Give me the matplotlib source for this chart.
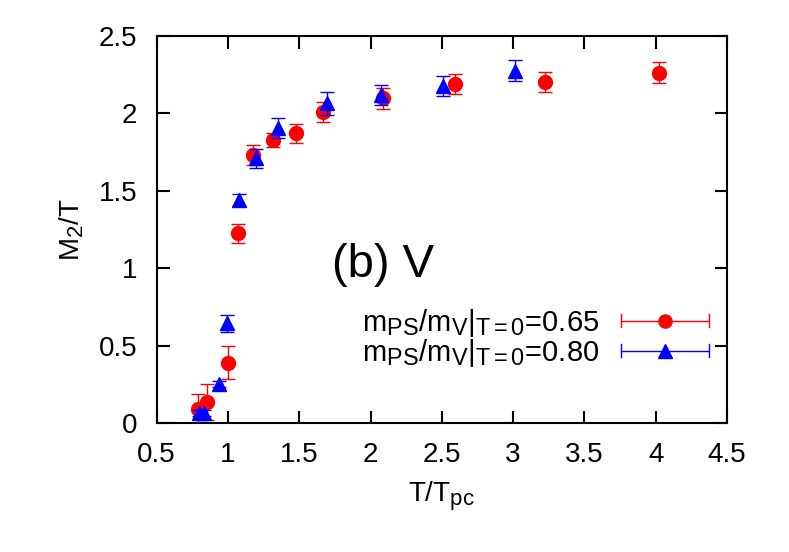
import matplotlib
matplotlib.use("Agg")
import matplotlib.pyplot as plt
from matplotlib.legend_handler import HandlerBase
from matplotlib.lines import Line2D
try:
    import matplotlib._mathtext as _mt
    _mt.SHRINK_FACTOR = 0.8
except Exception:
    pass

plt.rcParams['font.family'] = ['Liberation Sans', 'DejaVu Sans']
plt.rcParams['mathtext.fontset'] = 'custom'
plt.rcParams['mathtext.rm'] = 'Liberation Sans'
plt.rcParams['mathtext.it'] = 'Liberation Sans'
plt.rcParams['mathtext.default'] = 'regular'

# Data: m_PS/m_V = 0.65 (red circles)
x065 = [0.79, 0.85, 1.0, 1.073, 1.178, 1.318, 1.475, 1.669, 2.09, 2.593, 3.224, 4.023]
y065 = [0.09, 0.135, 0.39, 1.225, 1.731, 1.828, 1.871, 2.007, 2.097, 2.188, 2.201, 2.263]
e065 = [0.10, 0.115, 0.108, 0.06, 0.067, 0.047, 0.06, 0.065, 0.07, 0.065, 0.065, 0.067]

# Data: m_PS/m_V = 0.80 (blue triangles)
x080 = [0.797, 0.832, 0.935, 0.992, 1.078, 1.197, 1.349, 1.693, 2.074, 2.511, 3.013]
y080 = [0.062, 0.062, 0.252, 0.644, 1.44, 1.71, 1.904, 2.065, 2.119, 2.177, 2.276]
e080 = [0.02, 0.02, 0.02, 0.054, 0.04, 0.06, 0.065, 0.075, 0.062, 0.065, 0.068]

xticks = [0.5, 1, 1.5, 2, 2.5, 3, 3.5, 4, 4.5]
xticklabels = ['0.5', '1', '1.5', '2', '2.5', '3', '3.5', '4', '4.5']
yticks = [0, 0.5, 1, 1.5, 2, 2.5]
yticklabels = ['0', '0.5', '1', '1.5', '2', '2.5']

labels = [r'm$_{PS}$/m$_V$|$_{T{=}0}$=0.65', r'm$_{PS}$/m$_V$|$_{T{=}0}$=0.80']


class HandlerGnuErr(HandlerBase):
    def __init__(self, color, marker, ms):
        super().__init__()
        self.color = color
        self.marker = marker
        self.ms = ms

    def create_artists(self, legend, orig_handle, xdescent, ydescent,
                       width, height, fontsize, trans):
        y = height / 2 - ydescent
        x0, x1 = -xdescent, width - xdescent
        cap = 4.7
        arts = [
            Line2D([x0, x1], [y, y], color=self.color, lw=1.0, transform=trans),
            Line2D([x0, x0], [y - cap, y + cap], color=self.color, lw=1.0, transform=trans),
            Line2D([x1, x1], [y - cap, y + cap], color=self.color, lw=1.0, transform=trans),
            Line2D([(x0 + x1) / 2], [y], color=self.color, marker=self.marker,
                   ms=self.ms, ls='none', transform=trans),
        ]
        return arts


fig = plt.figure(figsize=(7.89, 5.52), dpi=100)
ax = fig.add_axes([0.1985, 0.2337, 0.7229, 0.7011])

h1 = ax.errorbar(x065, y065, yerr=e065, fmt='o', color='#ff0000', ms=10,
                 elinewidth=1.0, capsize=5, capthick=1.0, zorder=3)
h2 = ax.errorbar(x080, y080, yerr=e080, fmt='^', color='#0000ff', ms=10,
                 elinewidth=1.0, capsize=5, capthick=1.0, zorder=4)

ax.set_xlim(0.5, 4.5)
ax.set_ylim(0, 2.5)
ax.set_xticks(xticks)
ax.set_xticklabels(xticklabels)
ax.set_yticks(yticks)
ax.set_yticklabels(yticklabels)
ax.tick_params(direction='in', length=9, width=1.5, top=True, right=True,
               labelsize=20, pad=14)
for s in ax.spines.values():
    s.set_linewidth(1.5)

ax.set_xlabel(r'T/T$_{pc}$', fontsize=20, labelpad=8)
ax.set_ylabel(r'M$_2$/T', fontsize=20, labelpad=9)

ax.text(1.728, 0.945, '(b) V', fontsize=34, ha='left', va='baseline')

fs = 21
hl_px = 88.0
ht_px = 21.7
fs_px = fs * 100 / 72.0
leg = ax.legend([h1, h2], labels, loc='lower right',
                bbox_to_anchor=(0.969, 0.14), frameon=False, markerfirst=False,
                fontsize=fs, handlelength=hl_px / fs_px, handletextpad=ht_px / fs_px,
                labelspacing=-0.08, borderpad=0, borderaxespad=0,
                handler_map={h1: HandlerGnuErr('#ff0000', 'o', 9.5),
                             h2: HandlerGnuErr('#0000ff', '^', 9.5)})

fig.savefig('out.png', dpi=100)
